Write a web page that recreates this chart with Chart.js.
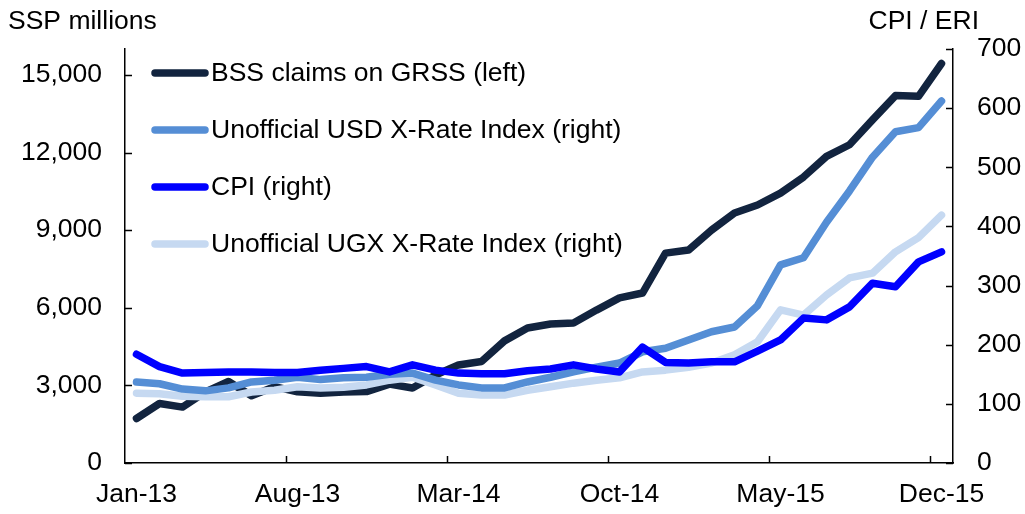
<!DOCTYPE html>
<html lang="en">
<head>
<meta charset="UTF-8">
<title>BSS claims on GRSS, exchange rate indices and CPI</title>
<script src="https://cdn.jsdelivr.net/npm/chart.js@4/dist/chart.umd.min.js"></script>
<style>
    html, body { margin: 0; padding: 0; background: #fff; }
    #chart { display: block; }
</style>
</head>
<body>
<canvas id="chart" width="1025" height="514"></canvas>
<script>
const months = [
    'Jan-13', 'Feb-13', 'Mar-13', 'Apr-13', 'May-13', 'Jun-13', 'Jul-13', 'Aug-13', 'Sep-13', 'Oct-13', 'Nov-13', 'Dec-13',
    'Jan-14', 'Feb-14', 'Mar-14', 'Apr-14', 'May-14', 'Jun-14', 'Jul-14', 'Aug-14', 'Sep-14', 'Oct-14', 'Nov-14', 'Dec-14',
    'Jan-15', 'Feb-15', 'Mar-15', 'Apr-15', 'May-15', 'Jun-15', 'Jul-15', 'Aug-15', 'Sep-15', 'Oct-15', 'Nov-15', 'Dec-15'
];
// only these months get a label on the x axis
const shownMonths = ['Jan-13', 'Aug-13', 'Mar-14', 'Oct-14', 'May-15', 'Dec-15'];

// SSP millions (left axis)
const bssClaims = [
    1720, 2300, 2160, 2750, 3150, 2600, 2950, 2750, 2700, 2740, 2760, 3050,
    2900, 3400, 3790, 3920, 4720, 5220, 5370, 5410, 5910, 6380, 6570, 8110,
    8230, 9000, 9660, 9970, 10430, 11050, 11850, 12300, 13260, 14200, 14170, 15440
];
// indices (right axis)
const usdIndex = [
    137, 134, 125, 122, 127, 137, 140, 145, 141, 144, 145, 150,
    152, 140, 132, 127, 127, 137, 145, 154, 162, 169, 188, 194,
    208, 222, 230, 266, 335, 347, 407, 460, 517, 560, 567, 612
];
const cpi = [
    184, 163, 152, 153, 154, 154, 153, 153, 157, 160, 163, 154,
    166, 157, 152, 151, 151, 156, 159, 166, 159, 154, 196, 170,
    169, 171, 171, 189, 208, 245, 242, 264, 304, 298, 340, 357
];
const ugxIndex = [
    118, 117, 113, 112, 112, 120, 123, 129, 127, 128, 132, 140,
    145, 132, 118, 115, 115, 123, 129, 135, 140, 144, 154, 157,
    162, 169, 183, 205, 259, 250, 284, 313, 321, 357, 381, 419
];

const leftTicks = [0, 3000, 6000, 9000, 12000, 15000];

const FONT = 'Arial, "Liberation Sans", sans-serif';
const FONT_SIZE = 26.5;
const LINE_W = 7.5;

// legend, axis titles and the inward tick marks
const decorations = {
    id: 'decorations',
    afterDraw(chart) {
        const ctx = chart.ctx;
        const area = chart.chartArea;
        const x = chart.scales.x;
        const yL = chart.scales.y;
        const yR = chart.scales.y2;

        ctx.save();
        ctx.strokeStyle = '#000';
        ctx.lineWidth = 1.5;
        ctx.beginPath();
        yL.ticks.forEach(t => {
            const py = Math.round(yL.getPixelForValue(t.value)) + 0.5;
            ctx.moveTo(area.left, py);
            ctx.lineTo(area.left + 7, py);
        });
        yR.ticks.forEach(t => {
            const py = Math.round(yR.getPixelForValue(t.value)) + 0.5;
            ctx.moveTo(area.right - 7, py);
            ctx.lineTo(area.right, py);
        });
        const half = (x.getPixelForValue(1) - x.getPixelForValue(0)) / 2;
        months.forEach((m, i) => {
            if (i === 0 || !shownMonths.includes(m)) return;
            const px = Math.round(x.getPixelForValue(i) - half) + 0.5;
            ctx.moveTo(px, area.bottom);
            ctx.lineTo(px, area.bottom - 7);
        });
        ctx.stroke();

        ctx.fillStyle = '#000';
        ctx.font = FONT_SIZE + 'px ' + FONT;
        ctx.textBaseline = 'middle';
        ctx.textAlign = 'left';
        ctx.fillText('SSP millions', 8, 22);
        ctx.textAlign = 'right';
        ctx.fillText('CPI / ERI', 979, 22);

        // legend inside the plot, top left
        ctx.textAlign = 'left';
        ctx.lineCap = 'round';
        chart.data.datasets.forEach((ds, i) => {
            const ly = 73 + 57 * i;
            ctx.strokeStyle = ds.borderColor;
            ctx.lineWidth = LINE_W;
            ctx.beginPath();
            ctx.moveTo(155, ly);
            ctx.lineTo(205, ly);
            ctx.stroke();
            ctx.fillStyle = '#000';
            ctx.fillText(ds.label, 211, ly + 1);
        });
        ctx.restore();
    }
};

function line(label, data, color, axis, order) {
    return {
        label: label,
        data: data,
        yAxisID: axis,
        borderColor: color,
        backgroundColor: color,
        borderWidth: LINE_W,
        borderJoinStyle: 'round',
        borderCapStyle: 'round',
        pointRadius: 0,
        tension: 0,
        fill: false,
        order: order
    };
}

new Chart(document.getElementById('chart'), {
    type: 'line',
    data: {
        labels: months,
        datasets: [
            line('BSS claims on GRSS (left)', bssClaims, '#12243f', 'y', 4),
            line('Unofficial USD X-Rate Index (right)', usdIndex, '#558ed5', 'y2', 2),
            line('CPI (right)', cpi, '#0000ff', 'y2', 1),
            line('Unofficial UGX X-Rate Index (right)', ugxIndex, '#c6d9f1', 'y2', 3)
        ]
    },
    options: {
        responsive: false,
        animation: false,
        locale: 'en-US',
        layout: { padding: { top: 49, left: 0, right: 0, bottom: 0 } },
        plugins: {
            legend: { display: false },
            tooltip: { enabled: false }
        },
        scales: {
            x: {
                offset: true,
                grid: { display: false, drawTicks: false },
                border: { display: true, color: '#000', width: 1.5 },
                ticks: {
                    autoSkip: false,
                    maxRotation: 0,
                    padding: 16,
                    color: '#000',
                    font: { family: FONT, size: FONT_SIZE },
                    callback: function (value, index) {
                        const m = months[index];
                        return shownMonths.includes(m) ? m : '';
                    }
                },
                afterFit: s => { s.height = 51; }
            },
            y: {
                position: 'left',
                min: 0,
                max: 16000,
                grid: { display: false, drawTicks: false },
                border: { display: true, color: '#000', width: 1.5 },
                ticks: {
                    stepSize: 3000,
                    padding: 23,
                    color: '#000',
                    font: { family: FONT, size: FONT_SIZE }
                },
                afterBuildTicks: s => { s.ticks = leftTicks.map(v => ({ value: v })); },
                afterFit: s => { s.width = 125; }
            },
            y2: {
                position: 'right',
                min: 0,
                max: 700,
                grid: { display: false, drawTicks: false },
                border: { display: true, color: '#000', width: 1.5 },
                ticks: {
                    stepSize: 100,
                    padding: 24,
                    color: '#000',
                    font: { family: FONT, size: FONT_SIZE }
                },
                afterFit: s => { s.width = 72; }
            }
        }
    },
    plugins: [decorations]
});
</script>
</body>
</html>
